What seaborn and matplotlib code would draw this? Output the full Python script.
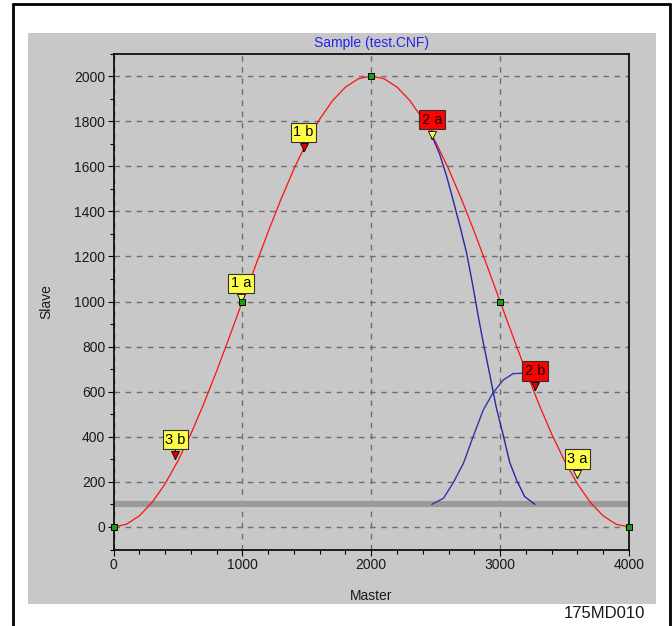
import matplotlib
matplotlib.use("Agg")
import matplotlib.pyplot as plt
import matplotlib.transforms as mtransforms
from matplotlib.lines import Line2D
from matplotlib.patches import Rectangle
from matplotlib.ticker import MultipleLocator
import seaborn as sns

# ---- data ----
master_red = [0, 100, 200, 300, 400, 500, 600, 700, 800, 900, 1000,
              1100, 1200, 1300, 1400, 1500, 1600, 1700, 1800, 1900, 2000,
              2100, 2200, 2300, 2400, 2500, 2600, 2700, 2800, 2900, 3000,
              3100, 3200, 3300, 3400, 3500, 3600, 3700, 3800, 3900, 4000]
slave_red = [0, 12, 49, 109, 191, 293, 412, 546, 691, 844, 1000,
             1156, 1309, 1454, 1588, 1707, 1809, 1891, 1951, 1988, 2000,
             1988, 1951, 1891, 1809, 1707, 1588, 1454, 1309, 1156, 1000,
             844, 691, 546, 412, 293, 191, 109, 49, 12, 0]

master_blue_down = [2470, 2530, 2585, 2635, 2690, 2740, 2790, 2830, 2870,
                    2920, 2970, 3025, 3075, 3130, 3190, 3270]
slave_blue_down = [1735, 1655, 1555, 1450, 1330, 1215, 1065, 935, 815,
                   675, 530, 405, 285, 205, 135, 100]

master_blue_up = [2470, 2560, 2635, 2715, 2790, 2870, 2945, 3025, 3100, 3180, 3210]
slave_blue_up = [100, 127, 195, 282, 400, 520, 595, 652, 680, 682, 680]

master_keys = [0, 1000, 2000, 3000, 4000]
slave_keys = [0, 1000, 2000, 1000, 0]

label_names = ["1 a", "1 b", "2 a", "2 b", "3 a", "3 b"]
label_master = [990, 1475, 2470, 3270, 3600, 480]
label_slave = [995, 1665, 1720, 605, 215, 300]
label_box_colors = ["#FFFF4A", "#FFFF4A", "#FF0000", "#FF0000", "#FFFF4A", "#FFFF4A"]
label_tri_colors = ["#FFFF4A", "#E00000", "#FFFF4A", "#E00000", "#FFFF4A", "#E00000"]

band_level = 104

x_ticks = [0, 1000, 2000, 3000, 4000]
y_ticks = [0, 200, 400, 600, 800, 1000, 1200, 1400, 1600, 1800, 2000]

title_text = "Sample (test.CNF)"
x_label = "Master"
y_label = "Slave"
figure_code = "175MD010"

# ---- styling ----
sns.set_theme(style="white")
plt.rcParams["font.family"] = ["Liberation Sans", "DejaVu Sans"]

W, H = 672, 626
fig = plt.figure(figsize=(W / 100, H / 100), dpi=100, facecolor="white")

# gray panel behind the plot
fig.add_artist(Rectangle((28 / W, (H - 604) / H), 628 / W, 571 / H,
                         transform=fig.transFigure, facecolor="#C8C8C8",
                         edgecolor="none", zorder=0))
# outer frame lines
frame_kw = dict(color="black", lw=2.0, transform=fig.transFigure, zorder=1)
fig.add_artist(Line2D([13 / W, 13 / W], [0, (H - 4) / H], **frame_kw))
fig.add_artist(Line2D([13 / W, 670 / W], [(H - 4) / H, (H - 4) / H], **frame_kw))
fig.add_artist(Line2D([670 / W, 670 / W], [0, (H - 4) / H], **frame_kw))

ax = fig.add_axes([113.5 / W, (H - 549.5) / H, 515.5 / W, 496 / H])
ax.set_facecolor("#C8C8C8")
ax.set_zorder(2)

# gray band
ax.axhline(band_level, color="#9A9A9A", lw=4.4, zorder=1.5)

sns.lineplot(x=master_red, y=slave_red, ax=ax, color="#FF1010", lw=0.9,
             estimator=None, sort=False, zorder=3)
sns.lineplot(x=master_blue_down, y=slave_blue_down, ax=ax, color="#2828A8",
             lw=1.0, estimator=None, sort=False, zorder=3)
sns.lineplot(x=master_blue_up, y=slave_blue_up, ax=ax, color="#3434A8",
             lw=1.0, estimator=None, sort=False, zorder=3)

ax.plot(master_keys, slave_keys, ls="none", marker="s", ms=4.2,
        mfc="#10A010", mec="black", mew=0.7, zorder=7, clip_on=False)

tri_trans = mtransforms.offset_copy(ax.transData, fig=fig, x=0, y=3.0, units="points")
for name, mx, sy, bc, tc in zip(label_names, label_master, label_slave,
                                label_box_colors, label_tri_colors):
    ax.annotate(name, xy=(mx, sy), xytext=(0, 14), textcoords="offset points",
                ha="center", va="center", fontsize=10.5, color="black",
                bbox=dict(boxstyle="square,pad=0.18", fc=bc, ec="#303030", lw=0.8),
                arrowprops=dict(arrowstyle="-", color="black", lw=0.8,
                                shrinkA=0, shrinkB=0),
                zorder=5)
    ax.plot([mx], [sy], marker="v", ms=5.5, mfc=tc, mec="black", mew=0.6,
            ls="none", transform=tri_trans, zorder=6)

ax.set_xlim(0, 4000)
ax.set_ylim(-100, 2100)
ax.set_xticks(x_ticks)
ax.set_yticks(y_ticks)
ax.xaxis.set_minor_locator(MultipleLocator(200))
ax.yaxis.set_minor_locator(MultipleLocator(100))
ax.tick_params(axis="both", which="both", direction="out", color="black",
               labelsize=10, labelcolor="#1A1A1A", width=0.8,
               bottom=True, left=True)
ax.tick_params(axis="both", which="major", length=4, pad=2)
ax.tick_params(axis="both", which="minor", length=3)

ax.grid(True, which="major", ls=(0, (4, 4)), color="#6E6E6E", lw=1.0, zorder=1)
for s in ax.spines.values():
    s.set_visible(True)
    s.set_color("black")
    s.set_linewidth(1.2)

ax.set_title(title_text, color="#2424E8", fontsize=10, pad=5)
ax.set_xlabel(x_label, fontsize=10, color="#1A1A1A", labelpad=12)
ax.set_ylabel(y_label, fontsize=10, color="#1A1A1A", labelpad=15)

fig.text(604 / W, (H - 614) / H, figure_code, ha="center", va="center",
         fontsize=12, color="#1A1A1A")

fig.savefig("out.png", dpi=100, facecolor="white")
